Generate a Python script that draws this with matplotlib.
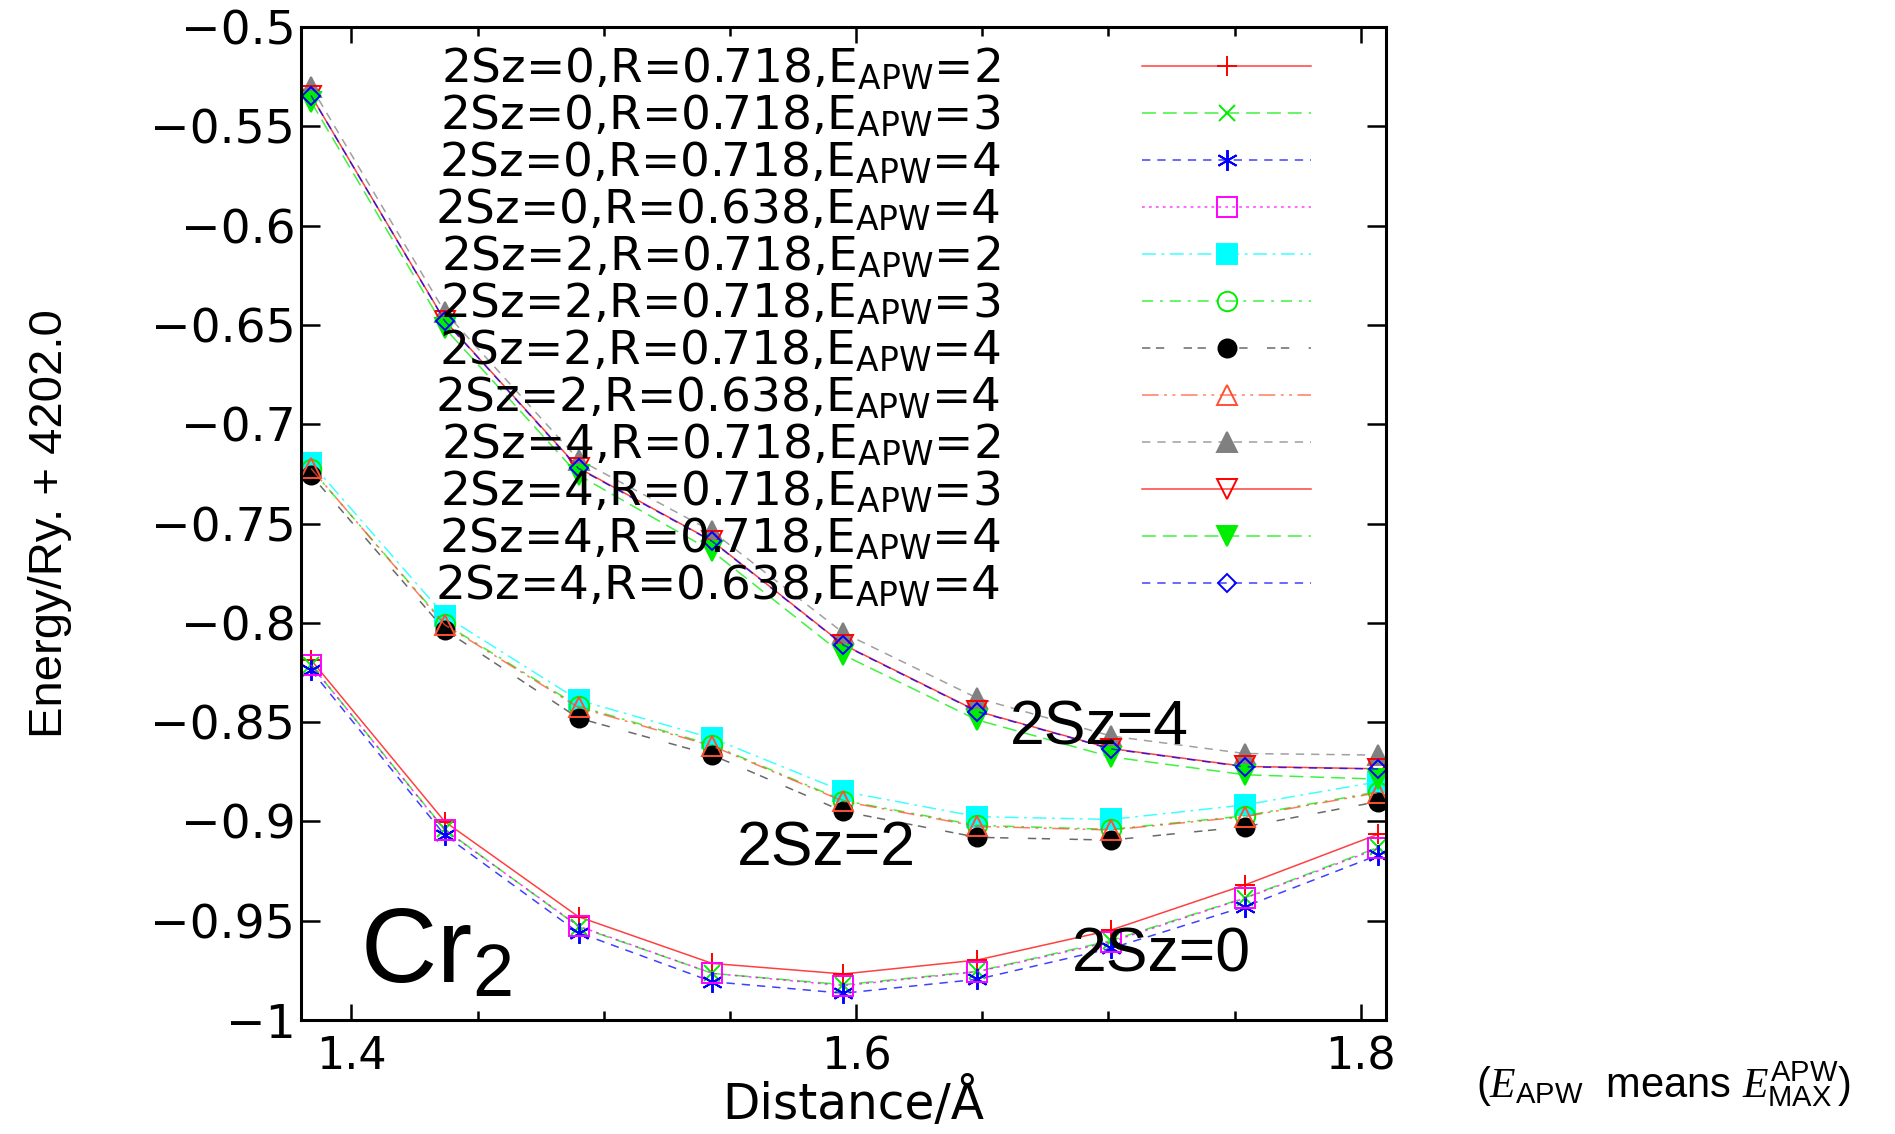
import matplotlib
matplotlib.use("Agg")
import matplotlib.pyplot as plt
from matplotlib.ticker import FixedLocator, FixedFormatter, MultipleLocator

plt.rcParams['mathtext.fontset'] = 'custom'
plt.rcParams['mathtext.rm'] = 'Liberation Sans'
plt.rcParams['mathtext.it'] = 'Liberation Serif:italic'
plt.rcParams['mathtext.bf'] = 'Liberation Sans:bold'
plt.rcParams['lines.scale_dashes'] = False

# Cr2 bond length (Angstrom)
distance = [1.384, 1.437, 1.490, 1.543, 1.595, 1.648, 1.701, 1.754, 1.807]

# Energy/Ry. + 4202.0, one list per calculation
s0_r718_e2 = [-0.8187, -0.9001, -0.9480, -0.9715, -0.9768, -0.9698, -0.9547, -0.9320, -0.9064]
s0_r718_e3 = [-0.8212, -0.9040, -0.9530, -0.9765, -0.9822, -0.9755, -0.9600, -0.9385, -0.9130]
s0_r718_e4 = [-0.8238, -0.9069, -0.9560, -0.9807, -0.9865, -0.9795, -0.9639, -0.9429, -0.9169]
s0_r638_e4 = [-0.8212, -0.9043, -0.9527, -0.9765, -0.9827, -0.9757, -0.9606, -0.9387, -0.9136]
s2_r718_e2 = [-0.7195, -0.7965, -0.8389, -0.8581, -0.8849, -0.8976, -0.8990, -0.8917, -0.8800]
s2_r718_e3 = [-0.7225, -0.8005, -0.8420, -0.8615, -0.8895, -0.9020, -0.9040, -0.8972, -0.8850]
s2_r718_e4 = [-0.7256, -0.8036, -0.8480, -0.8666, -0.8950, -0.9080, -0.9094, -0.9027, -0.8900]
s2_r638_e4 = [-0.7223, -0.8010, -0.8426, -0.8620, -0.8899, -0.9025, -0.9043, -0.8976, -0.8855]
s4_r718_e2 = [-0.5300, -0.6435, -0.7178, -0.7540, -0.8051, -0.8379, -0.8570, -0.8658, -0.8666]
s4_r718_e3 = [-0.5345, -0.6478, -0.7220, -0.7588, -0.8110, -0.8445, -0.8633, -0.8723, -0.8735]
s4_r718_e4 = [-0.5376, -0.6516, -0.7256, -0.7640, -0.8162, -0.8489, -0.8675, -0.8765, -0.8787]
s4_r638_e4 = [-0.5345, -0.6480, -0.7223, -0.7590, -0.8112, -0.8447, -0.8635, -0.8725, -0.8736]

labels = [
    r"2Sz=0,R=0.718,E$_{\mathrm{APW}}$=2",
    r"2Sz=0,R=0.718,E$_{\mathrm{APW}}$=3",
    r"2Sz=0,R=0.718,E$_{\mathrm{APW}}$=4",
    r"2Sz=0,R=0.638,E$_{\mathrm{APW}}$=4",
    r"2Sz=2,R=0.718,E$_{\mathrm{APW}}$=2",
    r"2Sz=2,R=0.718,E$_{\mathrm{APW}}$=3",
    r"2Sz=2,R=0.718,E$_{\mathrm{APW}}$=4",
    r"2Sz=2,R=0.638,E$_{\mathrm{APW}}$=4",
    r"2Sz=4,R=0.718,E$_{\mathrm{APW}}$=2",
    r"2Sz=4,R=0.718,E$_{\mathrm{APW}}$=3",
    r"2Sz=4,R=0.718,E$_{\mathrm{APW}}$=4",
    r"2Sz=4,R=0.638,E$_{\mathrm{APW}}$=4",
]
series = [s0_r718_e2, s0_r718_e3, s0_r718_e4, s0_r638_e4,
          s2_r718_e2, s2_r718_e3, s2_r718_e4, s2_r638_e4,
          s4_r718_e2, s4_r718_e3, s4_r718_e4, s4_r638_e4]

xticks = [1.4, 1.6, 1.8]
xticklabels = ['1.4', '1.6', '1.8']
yticks = [-1.0, -0.95, -0.9, -0.85, -0.8, -0.75, -0.7, -0.65, -0.6, -0.55, -0.5]
yticklabels = ['\u22121', '\u22120.95', '\u22120.9', '\u22120.85', '\u22120.8', '\u22120.75',
               '\u22120.7', '\u22120.65', '\u22120.6', '\u22120.55', '\u22120.5']

# gnuplot-like styles: (colour, dash pattern, marker, filled, marker size)
styles = [
    ('#ff0000', '-', '+', True, 15),
    ('#00ee00', (0, (10, 5)), 'x', True, 12),
    ('#0000ff', (0, (6, 5)), (6, 2, 0), True, 15),
    ('#ff00ff', (0, (2, 3)), 's', False, 14),
    ('#00ffff', (0, (10, 4, 2, 4)), 's', True, 15),
    ('#00ee00', (0, (8, 5, 2, 5)), 'o', False, 14),
    ('#000000', (0, (6, 4, 6, 14)), 'o', True, 13),
    ('#ff5030', (0, (12, 4, 2, 4, 2, 4)), '^', False, 14),
    ('#808080', (0, (6, 5)), '^', True, 14),
    ('#ff0000', '-', 'v', False, 14),
    ('#00ee00', (0, (10, 5)), 'v', True, 14),
    ('#0000ff', (0, (6, 5)), 'D', False, 9),
]

fig = plt.figure(figsize=(18.95, 11.34), dpi=100)
ax = fig.add_axes([0.1588, 0.1005, 0.5726, 0.8757])

for yv, lab, (col, ls, mk, filled, ms) in zip(series, labels, styles):
    lc = matplotlib.colors.to_rgba(col, 0.75)
    if col == '#000000':
        lc = (0.35, 0.35, 0.35, 0.9)
    ax.plot(distance, yv, color=lc, linestyle=ls, linewidth=1.1,
            marker=mk, markersize=ms, markeredgewidth=1.4,
            markeredgecolor=col, markerfacecolor=col if filled else 'none',
            label=lab)

ax.set_xlim(1.380, 1.810)
ax.set_ylim(-1.0, -0.5)
ax.xaxis.set_major_locator(FixedLocator(xticks))
ax.xaxis.set_major_formatter(FixedFormatter(xticklabels))
ax.xaxis.set_minor_locator(MultipleLocator(0.05))
ax.yaxis.set_major_locator(FixedLocator(yticks))
ax.yaxis.set_major_formatter(FixedFormatter(yticklabels))

ax.tick_params(which='both', direction='in', top=True, right=True, width=1.8)
ax.tick_params(axis='x', which='major', length=11.5, pad=11, labelsize=32)
ax.tick_params(axis='x', which='minor', length=6.5)
ax.tick_params(axis='y', which='major', length=14, pad=4, labelsize=34)
for lab in ax.get_xticklabels() + ax.get_yticklabels():
    lab.set_family('DejaVu Sans')
for sp in ax.spines.values():
    sp.set_linewidth(2.2)

ax.set_xlabel('Distance/\u00c5', fontsize=35, family='DejaVu Sans')
ax.xaxis.set_label_coords(0.509, -0.058)
ax.set_ylabel('Energy/Ry. + 4202.0', fontsize=34, family='Liberation Sans')
ax.yaxis.set_label_coords(-0.211, 0.50)

leg = ax.legend(loc='upper left', bbox_to_anchor=(0.1235, 0.981), frameon=False,
                markerfirst=False, handlelength=3.6, handletextpad=3.03,
                labelspacing=0.01, borderpad=0, borderaxespad=0,
                prop={'family': 'DejaVu Sans', 'size': 33.8,
                      'math_fontfamily': 'dejavusans'})

ax.text(1.661, -0.8615, '2Sz=4', fontsize=45, family='Liberation Sans', va='baseline')
ax.text(1.5527, -0.922, '2Sz=2', fontsize=45, family='Liberation Sans', va='baseline')
ax.text(1.6855, -0.9758, '2Sz=0', fontsize=45, family='Liberation Sans', va='baseline')
ax.text(1.4036, -0.9809, r'Cr$_{2}$', fontsize=76, family='Liberation Sans', va='baseline')

fig.text(0.779, 0.044, r'($\mathit{E}_{\mathrm{APW}}$  means $\mathit{E}^{\mathrm{APW}}_{\mathrm{MAX}}$)',
         fontsize=30, family='Liberation Sans', va='center')

fig.savefig('out.png', dpi=100)
